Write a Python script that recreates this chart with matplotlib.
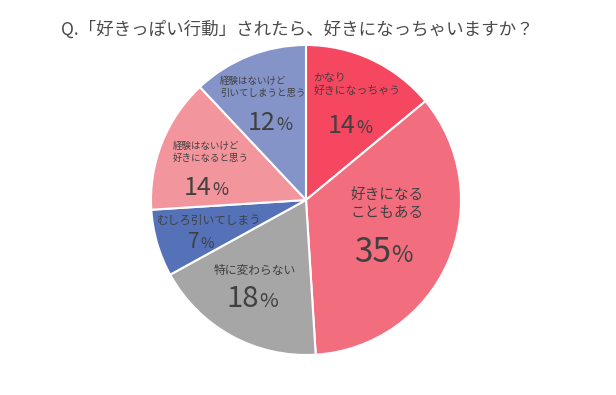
import matplotlib.pyplot as plt

plt.rcParams['font.family'] = ['Noto Sans CJK JP', 'DejaVu Sans']

# データ
labels = ['かなり\n好きになっちゃう', '好きになる\nこともある', '特に変わらない',
          'むしろ引いてしまう', '経験はないけど\n好きになると思う', '経験はないけど\n引いてしまうと思う']
values = [14, 35, 18, 7, 14, 12]
colors = ['#f5475f', '#f26d7d', '#a6a6a6', '#5571b8', '#f2959c', '#8493c8']
title = 'Q.「好きっぽい行動」されたら、好きになっちゃいますか？'

W, H = 616, 395
TXT = '#404040'

def px(x, y):
    return x / W, 1 - y / H

fig = plt.figure(figsize=(W / 100, H / 100), dpi=100)
cx, cy, r = 306, 200, 155
ax = fig.add_axes([(cx - r) / W, (H - cy - r) / H, 2 * r / W, 2 * r / H])
ax.pie(values, colors=colors, startangle=90, counterclock=False,
       wedgeprops=dict(edgecolor='white', linewidth=1.5))
ax.set_xlim(-1, 1)
ax.set_ylim(-1, 1)
ax.axis('off')

fig.text(*px(297, 30), title, ha='center', va='center', fontsize=12.6, color='#4a4a4a')

# ラベル配置 (x, y, ha, va, size)
lab_pos = [(313, 73, 'left', 'top', 7.8),
           (387, 204, 'center', 'center', 10.5),
           (255, 270, 'center', 'center', 8.5),
           (157, 220, 'left', 'center', 8.4),
           (173, 142, 'left', 'top', 6.8),
           (220, 77, 'left', 'top', 6.8)]
# 数字配置 (接合点x, ベースラインy, size)
num_pos = [(356, 133, 18), (391, 262, 24), (259, 307, 21),
           (200, 248, 15), (212, 195, 18), (276, 130, 18)]

for lab, v, lp, npos in zip(labels, values, lab_pos, num_pos):
    x, y, ha, va, s = lp
    fig.text(*px(x, y), lab, ha=ha, va=va, fontsize=s, color=TXT, linespacing=1.3)
    nx, ny, ns = npos
    fig.text(*px(nx, ny), str(v), ha='right', va='baseline', fontsize=ns, color=TXT)
    fig.text(*px(nx, ny), '%', ha='left', va='baseline', fontsize=ns * 0.7, color=TXT)

fig.savefig('out.png', dpi=100)
